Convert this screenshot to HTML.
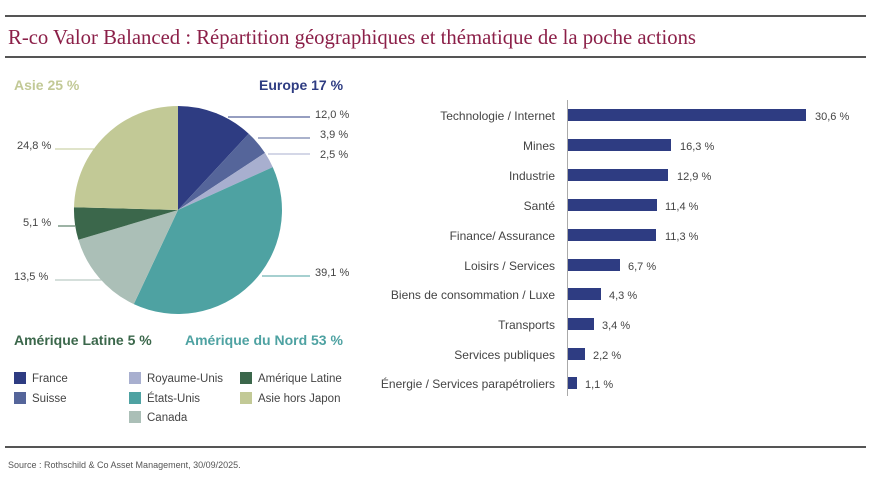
<!DOCTYPE html>
<html><head><meta charset="utf-8"><style>
html,body{margin:0;padding:0;background:#fff;}
svg{display:block;font-family:"Liberation Sans",sans-serif;}
</style></head><body>
<svg width="875" height="477" viewBox="0 0 875 477" xmlns="http://www.w3.org/2000/svg">
<line x1="5" y1="16" x2="866" y2="16" stroke="#555" stroke-width="2"/>
<line x1="5" y1="57" x2="866" y2="57" stroke="#555" stroke-width="2"/>
<line x1="5" y1="447" x2="866" y2="447" stroke="#555" stroke-width="2"/>
<text x="8" y="44" font-family="Liberation Serif,serif" font-size="21" fill="#8b1f48" textLength="688" lengthAdjust="spacingAndGlyphs">R-co Valor Balanced : Répartition géographiques et thématique de la poche actions</text>

<g stroke="none">
<path d="M178,210 L178,106 A104,104 0 0,1 248.7,133.7 Z" fill="#2e3c82"/>
<path d="M178,210 L248.7,133.7 A104,104 0 0,1 264.96,152.9 Z" fill="#55659a"/>
<path d="M178,210 L264.96,152.9 A104,104 0 0,1 272.75,167.1 Z" fill="#a8afcf"/>
<path d="M178,210 L272.75,167.1 A104,104 0 0,1 133.8,304.1 Z" fill="#4ea2a2"/>
<path d="M178,210 L133.8,304.1 A104,104 0 0,1 78.4,239.8 Z" fill="#abbfb7"/>
<path d="M178,210 L78.4,239.8 A104,104 0 0,1 74.0,207.2 Z" fill="#3b674b"/>
<path d="M178,210 L74.0,207.2 A104,104 0 0,1 178,106 Z" fill="#c2c996"/>
</g>
<g stroke-width="1">
<line x1="228" y1="117" x2="310" y2="117" stroke="#2e3c82"/>
<line x1="258" y1="138" x2="310" y2="138" stroke="#55659a"/>
<line x1="268" y1="154" x2="310" y2="154" stroke="#a8afcf"/>
<line x1="262" y1="276" x2="310" y2="276" stroke="#4ea2a2"/>
<line x1="55" y1="149" x2="95" y2="149" stroke="#c2c996"/>
<line x1="58" y1="226" x2="75" y2="226" stroke="#3b674b"/>
<line x1="55" y1="280" x2="102" y2="280" stroke="#abbfb7"/>
</g>
<g font-size="11" fill="#444">
<text x="315" y="118">12,0 %</text>
<text x="320" y="138">3,9 %</text>
<text x="320" y="158">2,5 %</text>
<text x="315" y="276">39,1 %</text>
<text x="17" y="149">24,8 %</text>
<text x="23" y="226">5,1 %</text>
<text x="14" y="280">13,5 %</text>
</g>
<g font-size="14" font-weight="bold">
<text x="14" y="90" fill="#c2c996">Asie 25 %</text>
<text x="259" y="90" fill="#2e3c82">Europe 17 %</text>
<text x="14" y="345" fill="#3b674b">Amérique Latine 5 %</text>
<text x="185" y="345" fill="#4ea2a2">Amérique du Nord 53 %</text>
</g>
<g font-size="11.5" fill="#444">
<rect x="14" y="372" width="12" height="12" fill="#2e3c82"/><text x="32" y="382">France</text>
<rect x="14" y="392" width="12" height="12" fill="#55659a"/><text x="32" y="402">Suisse</text>
<rect x="129" y="372" width="12" height="12" fill="#a8afcf"/><text x="147" y="382">Royaume-Unis</text>
<rect x="129" y="392" width="12" height="12" fill="#4ea2a2"/><text x="147" y="402">États-Unis</text>
<rect x="129" y="411" width="12" height="12" fill="#abbfb7"/><text x="147" y="421">Canada</text>
<rect x="240" y="372" width="12" height="12" fill="#3b674b"/><text x="258" y="382">Amérique Latine</text>
<rect x="240" y="392" width="12" height="12" fill="#c2c996"/><text x="258" y="402">Asie hors Japon</text>
</g>
<text x="8" y="468" font-size="9" fill="#555">Source : Rothschild &amp; Co Asset Management, 30/09/2025.</text>

<line x1="567.5" y1="100" x2="567.5" y2="396" stroke="#aaa" stroke-width="1"/>
<g fill="#2e3c82">
<rect x="568" y="109" width="238" height="12"/>
<rect x="568" y="139" width="103" height="12"/>
<rect x="568" y="169" width="100" height="12"/>
<rect x="568" y="199" width="89" height="12"/>
<rect x="568" y="229" width="88" height="12"/>
<rect x="568" y="259" width="52" height="12"/>
<rect x="568" y="288" width="33" height="12"/>
<rect x="568" y="318" width="26" height="12"/>
<rect x="568" y="348" width="17" height="12"/>
<rect x="568" y="377" width="9" height="12"/>
</g>
<g font-size="12" fill="#444" text-anchor="end">
<text x="555" y="120">Technologie / Internet</text>
<text x="555" y="150">Mines</text>
<text x="555" y="180">Industrie</text>
<text x="555" y="210">Santé</text>
<text x="555" y="240">Finance/ Assurance</text>
<text x="555" y="270">Loisirs / Services</text>
<text x="555" y="299">Biens de consommation / Luxe</text>
<text x="555" y="329">Transports</text>
<text x="555" y="359">Services publiques</text>
<text x="555" y="388">Énergie / Services parapétroliers</text>
</g>
<g font-size="11" fill="#444">
<text x="815" y="120">30,6 %</text>
<text x="680" y="150">16,3 %</text>
<text x="677" y="180">12,9 %</text>
<text x="665" y="210">11,4 %</text>
<text x="665" y="240">11,3 %</text>
<text x="628" y="270">6,7 %</text>
<text x="609" y="299">4,3 %</text>
<text x="602" y="329">3,4 %</text>
<text x="593" y="359">2,2 %</text>
<text x="585" y="388">1,1 %</text>
</g>
</svg>
</body></html>
